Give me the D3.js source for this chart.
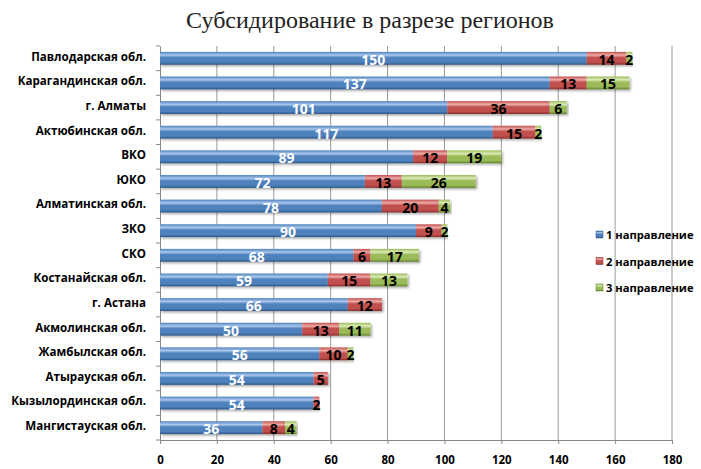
<!DOCTYPE html>
<html>
<head>
<meta charset="utf-8">
<script src="https://cdn.jsdelivr.net/npm/d3@7"></script>
<style>
  body { margin: 0; background: #fff; }
  svg { display: block; }
</style>
</head>
<body>
<div id="chart"></div>
<script>
const width = 701;
const height = 469;
const margin = { top: 46, right: 29, bottom: 29, left: 160 };

const regions = [
  "Павлодарская обл.", "Карагандинская обл.", "г. Алматы", "Актюбинская обл.",
  "ВКО", "ЮКО", "Алматинская обл.", "ЗКО", "СКО", "Костанайская обл.",
  "г. Астана", "Акмолинская обл.", "Жамбылская обл.", "Атырауская обл.",
  "Кызылординская обл.", "Мангистауская обл."
];
const dir1 = [150, 137, 101, 117, 89, 72, 78, 90, 68, 59, 66, 50, 56, 54, 54, 36];
const dir2 = [14, 13, 36, 15, 12, 13, 20, 9, 6, 15, 12, 13, 10, 5, 2, 8];
const dir3 = [2, 15, 6, 2, 19, 26, 4, 2, 17, 13, 0, 11, 2, 0, 0, 4];
const seriesNames = ["1 направление", "2 направление", "3 направление"];
const xTicks = [0, 20, 40, 60, 80, 100, 120, 140, 160, 180];

const colors = [
  { id: "g1", light: "#a9c8ee", base: "#4f81bd", dark: "#2b5688" },
  { id: "g2", light: "#eeaaa8", base: "#c0504d", dark: "#8a2c2a" },
  { id: "g3", light: "#dcebb8", base: "#9bbb59", dark: "#627f27" }
];
const labelColors = ["#fff", "#000", "#000"];

const rows = regions.map((r, i) => ({ region: r, vals: [dir1[i], dir2[i], dir3[i]] }));
const stack = d3.stack().keys([0, 1, 2]).value((d, k) => d.vals[k]);
const stacked = stack(rows);

const svg = d3.select("#chart").append("svg")
  .attr("width", width)
  .attr("height", height);

const defs = svg.append("defs");
colors.forEach(c => {
  const g = defs.append("linearGradient")
    .attr("id", c.id).attr("x1", 0).attr("y1", 0).attr("x2", 0).attr("y2", 1);
  g.append("stop").attr("offset", "0%").attr("stop-color", c.base);
  g.append("stop").attr("offset", "25%").attr("stop-color", c.light);
  g.append("stop").attr("offset", "45%").attr("stop-color", c.base);
  g.append("stop").attr("offset", "80%").attr("stop-color", c.base);
  g.append("stop").attr("offset", "100%").attr("stop-color", c.dark);
});
const shadow = defs.append("filter").attr("id", "shadow")
  .attr("x", "-5%").attr("y", "-30%").attr("width", "115%").attr("height", "180%");
shadow.append("feDropShadow").attr("dx", 1.5).attr("dy", 1.5)
  .attr("stdDeviation", 1).attr("flood-color", "#000").attr("flood-opacity", 0.35);

const x = d3.scaleLinear().domain([0, 180]).range([margin.left, width - margin.right]);
const y = d3.scaleBand().domain(regions)
  .range([margin.top, height - margin.bottom])
  .paddingInner(0.48).paddingOuter(0.24);

// title
svg.append("text")
  .attr("x", 370).attr("y", 28)
  .attr("text-anchor", "middle")
  .attr("font-family", "'Liberation Serif', 'DejaVu Serif', serif")
  .attr("font-size", 24)
  .attr("fill", "#222")
  .text("Субсидирование в разрезе регионов");

// grid
svg.append("g")
  .selectAll("line")
  .data(xTicks.slice(1))
  .join("line")
  .attr("x1", d => x(d)).attr("x2", d => x(d))
  .attr("y1", margin.top).attr("y2", height - margin.bottom)
  .attr("stroke", "#9a9a9a").attr("stroke-width", 1);

// x axis
const xAxis = svg.append("g")
  .attr("transform", `translate(0,${height - margin.bottom})`)
  .call(d3.axisBottom(x).tickValues(xTicks).tickSize(4).tickPadding(12));
xAxis.select(".domain").attr("stroke", "#888");
xAxis.selectAll(".tick line").attr("stroke", "#888");
xAxis.selectAll("text")
  .attr("font-family", "'Open Sans', sans-serif")
  .attr("font-weight", "bold")
  .attr("font-size", 11.5)
  .attr("fill", "#000");

// y axis
const yAxis = svg.append("g")
  .attr("transform", `translate(${margin.left},0)`)
  .call(d3.axisLeft(y).tickSize(0).tickPadding(14));
yAxis.select(".domain").attr("stroke", "#888");
yAxis.selectAll("text")
  .attr("font-family", "'Open Sans', sans-serif")
  .attr("font-weight", "bold")
  .attr("font-size", 11.6)
  .attr("dy", "0.2em")
  .attr("fill", "#000");
// band boundary ticks
svg.append("g")
  .selectAll("line")
  .data(d3.range(regions.length + 1))
  .join("line")
  .attr("x1", margin.left - 4).attr("x2", margin.left)
  .attr("y1", i => margin.top + i * y.step())
  .attr("y2", i => margin.top + i * y.step())
  .attr("stroke", "#888");

// bars
const layers = svg.append("g")
  .selectAll("g")
  .data(stacked)
  .join("g")
  .attr("fill", (d, i) => `url(#${colors[i].id})`);

layers.selectAll("rect")
  .data(d => d.filter(s => s[1] - s[0] > 0))
  .join("rect")
  .attr("x", d => x(d[0]))
  .attr("y", d => y(d.data.region))
  .attr("width", d => x(d[1]) - x(d[0]))
  .attr("height", y.bandwidth())
  .attr("filter", "url(#shadow)");

// value labels
stacked.forEach((layer, k) => {
  svg.append("g")
    .selectAll("text")
    .data(layer.filter(s => s[1] - s[0] > 0))
    .join("text")
    .attr("x", d => (x(d[0]) + x(d[1])) / 2)
    .attr("y", d => y(d.data.region) + y.bandwidth() / 2 + 6.5)
    .attr("text-anchor", "middle")
    .attr("font-family", "'Open Sans', sans-serif")
    .attr("font-weight", "bold")
    .attr("font-size", 14)
    .attr("fill", labelColors[k])
    .text(d => d[1] - d[0]);
});

// legend
const legend = svg.append("g").attr("transform", "translate(596,235)");
seriesNames.forEach((name, i) => {
  const g = legend.append("g").attr("transform", `translate(0,${i * 26.5})`);
  g.append("rect").attr("x", 0).attr("y", -4).attr("width", 7).attr("height", 7)
    .attr("fill", `url(#${colors[i].id})`).attr("stroke", colors[i].dark).attr("stroke-width", 0.5);
  g.append("text").attr("x", 10).attr("y", 4)
    .attr("font-family", "'Open Sans', sans-serif")
    .attr("font-weight", "bold")
    .attr("font-size", 11.2)
    .attr("fill", "#000")
    .text(name);
});
</script>
</body>
</html>
